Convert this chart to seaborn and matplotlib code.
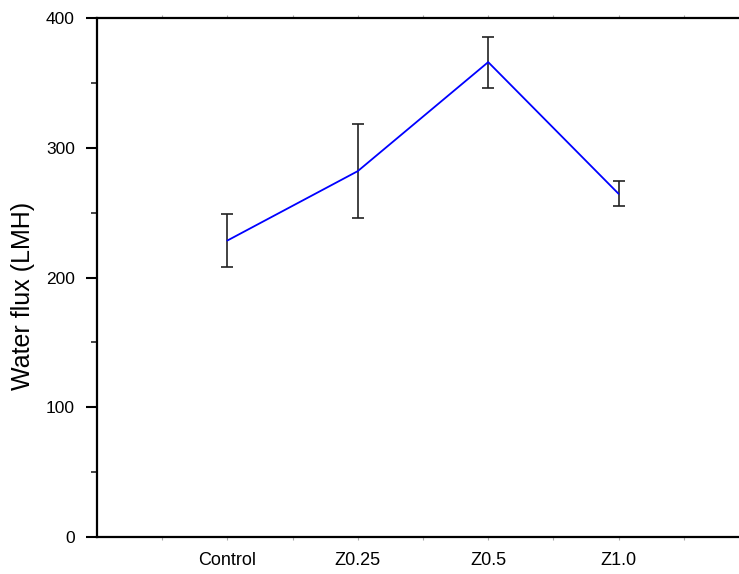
import matplotlib
matplotlib.use("Agg")
import matplotlib.pyplot as plt
from matplotlib.ticker import MultipleLocator, FixedLocator
import seaborn as sns
import numpy as np
import pandas as pd

categories = ["Control", "Z0.25", "Z0.5", "Z1.0"]
flux = [228.5, 282.0, 366.0, 264.5]
flux_err = [20.5, 36.0, 19.7, 9.5]
y_ticks = [0, 100, 200, 300, 400]

df = pd.DataFrame({"cat": categories, "flux": flux, "err": flux_err})
df["pos"] = np.arange(1, len(categories) + 1)

sns.set_style("ticks")
plt.rcParams["font.family"] = ["Liberation Sans", "DejaVu Sans"]

fig = plt.figure(figsize=(7.39, 5.74), dpi=100)
ax = fig.add_axes([97 / 739, 37 / 574, 652 / 739, 519 / 574])

ax.errorbar(df["pos"], df["flux"], yerr=df["err"], fmt="none",
            ecolor="#222222", elinewidth=1.2, capsize=4.5, capthick=1.2, zorder=2)
sns.lineplot(data=df, x="pos", y="flux", color="#0000FF", linewidth=1.3,
             ax=ax, zorder=3, sort=False)

ax.set_xlim(0, 5)
ax.set_ylim(0, 400)
ax.set_xticks(df["pos"])
ax.set_xticklabels(categories, fontsize=13)
ax.xaxis.set_minor_locator(FixedLocator([0.5, 1.5, 2.5, 3.5, 4.5]))
ax.set_yticks(y_ticks)
ax.yaxis.set_minor_locator(MultipleLocator(50))
ax.tick_params(axis="y", which="major", direction="out", length=8, width=1.5,
               labelsize=12.5, pad=8, colors="black")
ax.tick_params(axis="y", which="minor", direction="out", length=4, width=1.2)
ax.tick_params(axis="x", which="both", direction="out", length=2.5, width=0.8,
               color="#aaaaaa", pad=8, top=True)
ax.tick_params(axis="x", labelcolor="black")

for side in ["left", "bottom", "top", "right"]:
    ax.spines[side].set_linewidth(1.6)
    ax.spines[side].set_color("black")

ax.set_xlabel("")
ax.set_ylabel("Water flux (LMH)", fontsize=18, color="black")
ax.yaxis.set_label_coords(-0.095, 0.465)

fig.savefig("out.png", dpi=100)
